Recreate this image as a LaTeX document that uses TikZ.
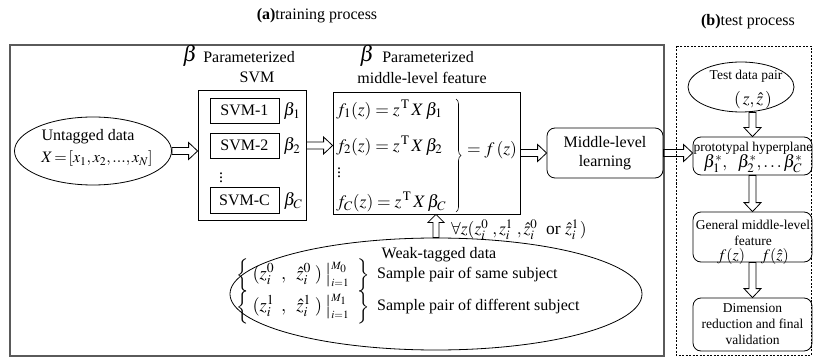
\documentclass[tikz,border=0pt]{standalone}
\usepackage{mathptmx}
\usepackage[no-math]{fontspec}
\setmainfont{Liberation Serif}
\usetikzlibrary{calc,decorations.pathreplacing,shapes.geometric}
\newcommand\myfs{\fontsize{16}{19}\selectfont}
\newcommand\myfsr{\fontsize{13.5}{16}\selectfont}
\newcommand\myfsm{\fontsize{17.5}{20}\selectfont}
\newcommand\myfsw{\fontsize{18.5}{21}\selectfont}
\newcommand\mybeta{{\fontsize{22}{22}\selectfont$\beta$}}
\newcommand\mylims[2]{\big|^{\scriptscriptstyle #1}_{\scriptscriptstyle #2}}
\definecolor{framegray}{HTML}{5A5A5A}
\tikzset{
 box/.style={draw, line width=0.8pt, inner sep=0pt},
 rbox/.style={box, rounded corners=8pt},
 txt/.style={inner sep=0pt},
 mtxt/.style={inner sep=0pt, font=\myfsm},
 wtxt/.style={inner sep=0pt, font=\myfsw},
 rarrow/.style={line width=0.8pt, to path={let \p1=(\tikztostart), \p2=(\tikztotarget) in
   (\x1,\y1+3.5pt) -- (\x2-9pt,\y1+3.5pt) -- (\x2-9pt,\y1+8.5pt) -- (\x2,\y1) -- (\x2-9pt,\y1-8.5pt) -- (\x2-9pt,\y1-3.5pt) -- (\x1,\y1-3.5pt) -- cycle}},
 darrow/.style={line width=0.8pt, to path={let \p1=(\tikztostart), \p2=(\tikztotarget) in
   (\x1-3.5pt,\y1) -- (\x1-3.5pt,\y2+9pt) -- (\x1-8.5pt,\y2+9pt) -- (\x1,\y2) -- (\x1+8.5pt,\y2+9pt) -- (\x1+3.5pt,\y2+9pt) -- (\x1+3.5pt,\y1) -- cycle}},
 uarrow/.style={line width=0.8pt, to path={let \p1=(\tikztostart), \p2=(\tikztotarget) in
   (\x1-3pt,\y1) -- (\x1-3pt,\y2-8pt) -- (\x1-8pt,\y2-8pt) -- (\x1,\y2) -- (\x1+8pt,\y2-8pt) -- (\x1+3pt,\y2-8pt) -- (\x1+3pt,\y1) -- cycle}},
}
\begin{document}
\begin{tikzpicture}[x=1pt,y=-1pt,font=\myfs]
\useasboundingbox (0,0) rectangle (813,358);
% titles
\node[txt] (ta) at (317,16) {\textbf{(a)}training process};
\node[txt] (tb) at (748,22) {\textbf{(b)}test process};
% frames
\draw[framegray, line width=1.6pt] (10,45) rectangle (664,356);
\draw[line width=0.7pt, dash pattern=on 2pt off 1.5pt] (676,46) rectangle (811,355);
% untagged
\node[draw, line width=0.8pt, ellipse, minimum width=157pt, minimum height=68pt, inner sep=0pt] (untagged) at (93,151) {};
\node[txt] (ut1) at (88,137) {Untagged data};
\node[txt] (ut2) at (97,159) {$X\!=\![x_1,x_2,...,x_N]$};
% SVM
\node[txt] (bsvm) at (190,56) {\mybeta};
\node[txt] (lsvm1) at (249,57) {Parameterized};
\node[txt] (lsvm2) at (257,77) {SVM};
\node[box, minimum width=108pt, minimum height=130pt] (svm) at (252,155) {};
\node[box, minimum width=69pt, minimum height=25pt] (svm1) at (244.5,110.5) {SVM-1};
\node[box, minimum width=69pt, minimum height=25pt] (svm2) at (244.5,145.5) {SVM-2};
\node[box, minimum width=69pt, minimum height=26pt] (svmc) at (244.5,200) {SVM-C};
\node[mtxt] (b1) at (292,111) {$\beta_1$};
\node[mtxt] (b2) at (292,146) {$\beta_2$};
\node[mtxt] (bc) at (293,201) {$\beta_C$};
\node[txt] (vd1) at (221,175) {$\vdots$};
% feature
\node[txt] (bfeat) at (367,56) {\mybeta};
\node[txt] (lfeat1) at (428,57) {Parameterized};
\node[txt] (lfeat2) at (422,78) {middle-level feature};
\node[box, minimum width=187pt, minimum height=122pt] (feat) at (426.5,153) {};
\node[mtxt, anchor=west] (f1) at (336,110) {$f_1(z)=z^{\,\mathrm{T}}\,X\,\beta_1$};
\node[mtxt, anchor=west] (f2) at (336,146) {$f_2(z)=z^{\,\mathrm{T}}\,X\,\beta_2$};
\node[txt, anchor=west] (vd2) at (337,170) {$\vdots$};
\node[mtxt, anchor=west] (fc) at (336,202) {$f_C(z)=z^{\,\mathrm{T}}\,X\,\beta_C$};
\draw[line width=0.6pt, decorate, decoration={brace, amplitude=5pt}] (456,99) -- (456,212);
\node[mtxt] (fz) at (492,150) {$=f\,(z)$};
% middle-level learning
\node[rbox, minimum width=116pt, minimum height=50pt, align=center] (mid) at (605,153) {Middle-level\\learning};
% weak-tagged
\node[draw, line width=0.8pt, ellipse, minimum width=412pt, minimum height=112pt, inner sep=0pt] (weak) at (436,294) {};
\node[txt] (wt) at (439,255) {Weak-tagged data};
\node[wtxt, anchor=west] (w1m) at (236,275) {$\Bigl\{\hspace{4pt}(z_i^0\hspace{7pt},\hspace{8pt}\hat z_i^0\hspace{4pt})\hspace{3pt}\mylims{M_0}{i=1}\hspace{8pt}\Bigr\}$};
\node[txt, anchor=west] (w1) at (377,275) {Sample pair of same subject};
\node[wtxt, anchor=west] (w2m) at (236,307) {$\Bigl\{\hspace{4pt}(z_i^1\hspace{7pt},\hspace{8pt}\hat z_i^1\hspace{4pt})\hspace{3pt}\mylims{M_1}{i=1}\hspace{8pt}\Bigr\}$};
\node[txt, anchor=west] (w2) at (377,307) {Sample pair of different subject};
\node[mtxt, anchor=west] (fa) at (451,230) {$\forall z(z_i^0\hspace{4pt},z_i^1\hspace{4pt},\hat z_i^0$\ \ or\ $\hat z_i^1\hspace{1pt})$};
% test side
\node[draw, line width=0.8pt, ellipse, minimum width=106pt, minimum height=50pt, inner sep=0pt] (test) at (741,87) {};
\node[txt, font=\myfsr] (tt1) at (746,76) {Test data pair};
\node[mtxt] (tt2) at (753,100) {$(\,z,\hat z\,)$};
\node[rbox, minimum width=119pt, minimum height=38pt] (hyper) at (752.5,156) {};
\node[txt, font=\myfsr] (h1) at (753,148) {prototypal hyperplane};
\node[mtxt] (h2) at (753,164) {$\beta_1^*,\ \ \beta_2^*,\ldots\beta_C^*$};
\node[rbox, minimum width=119pt, minimum height=50pt] (gen) at (752.5,237) {};
\node[txt, font=\myfsr] (g1) at (753,225) {General middle-level};
\node[txt, font=\myfsr] (g2) at (753,241) {feature};
\node[txt] (g3) at (753,256) {$f(z)\quad f(\hat z)$};
\node[rbox, minimum width=119pt, minimum height=53pt, font=\myfsr, align=center] (dim) at (752.5,324.5) {Dimension\\reduction and final\\validation};
% arrows
\draw[rarrow] (untagged.east) to (svm.west);
\draw[rarrow] (svm.east |- svm2.east) to (feat.west);
\draw[rarrow] (feat.east |- mid.west) to (mid.west);
\draw[rarrow] (mid.east) to (hyper.west);
\draw[uarrow] (weak.north) to (weak.north |- feat.south);
\draw[darrow] (hyper.north |- test.south) to (hyper.north);
\draw[darrow] (hyper.south) to (gen.north);
\draw[darrow] (gen.south) to (dim.north);
\end{tikzpicture}
\end{document}
